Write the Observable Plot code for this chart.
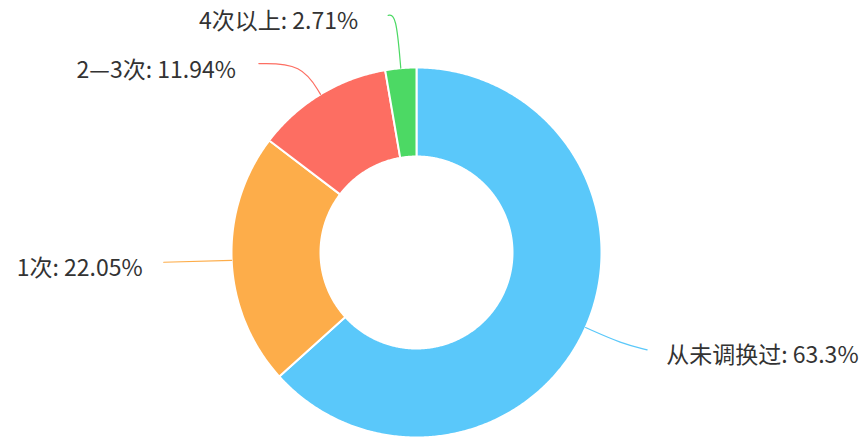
<!DOCTYPE html>
<html>
<head>
<meta charset="utf-8">
<script src="https://cdn.jsdelivr.net/npm/d3@7"></script>
<script src="https://cdn.jsdelivr.net/npm/@observablehq/plot@0.6"></script>
<style>
  html, body { margin: 0; padding: 0; background: #fff; }
  #chart svg { display: block; }
</style>
</head>
<body>
<div id="chart"></div>
<script>
// ---- data ----
const categories = ["从未调换过", "1次", "2—3次", "4次以上"];
const percents = [63.3, 22.05, 11.94, 2.71];
const colors = ["#5AC8FA", "#FDAD4A", "#FD6E62", "#4CD964"];

// ---- layout (pixels) ----
const W = 863, H = 439;
const CX = 416, CY = 252;         // donut centre
const R_OUT = 185, R_IN = 96;
// per-slice leader layout: radial extension, end offset, text offset
const leaderLen = [40, 68, 36, 54];
const endDx = [25, 0, -43, -8];
const endDy = [6, -1, 0, 1];
const textDx = [19, -21, -23, -30];
const textDy = [6, 6, 7, 6];

const U = 1 / R_OUT;   // one pixel in radius units

const pie = d3.pie().sort(null).value(d => d)(percents);

// slice polygons in radius units (angle clockwise from 12 o'clock)
const slices = pie.map((p, i) => {
  const pts = [];
  const steps = Math.max(4, Math.ceil((p.endAngle - p.startAngle) / (Math.PI / 360)));
  for (let k = 0; k <= steps; k++) {
    const a = p.startAngle + (p.endAngle - p.startAngle) * k / steps;
    pts.push({x: Math.sin(a), y: Math.cos(a)});
  }
  for (let k = steps; k >= 0; k--) {
    const a = p.startAngle + (p.endAngle - p.startAngle) * k / steps;
    pts.push({x: Math.sin(a) * R_IN / R_OUT, y: Math.cos(a) * R_IN / R_OUT});
  }
  pts.push(pts[0]);
  return pts;
});

const leaders = pie.map((p, i) => {
  const a = (p.startAngle + p.endAngle) / 2;
  const s = {x: Math.sin(a), y: Math.cos(a)};
  const r2 = 1 + leaderLen[i] * U;
  const e = {x: Math.sin(a) * r2, y: Math.cos(a) * r2};
  const end = {x: e.x + endDx[i] * U, y: e.y - endDy[i] * U};
  const pts = (Math.abs(endDx[i]) < 1) ? [s, end] : [s, e, end];
  return {pts, end, right: Math.sin(a) > 0};
});

const labels = leaders.map((l, i) => ({
  x: l.end.x + textDx[i] * U,
  y: l.end.y - textDy[i] * U,
  text: `${categories[i]}: ${percents[i]}%`,
  anchor: l.right ? "start" : "end"
}));

const marks = [];
slices.forEach((pts, i) => {
  marks.push(Plot.line(pts, {x: "x", y: "y", fill: colors[i], stroke: "#fff", strokeWidth: 2, strokeLinejoin: "round"}));
});
leaders.forEach((l, i) => {
  marks.push(Plot.line(l.pts, {x: "x", y: "y", stroke: colors[i], strokeWidth: 1.2, curve: "basis"}));
});
labels.forEach(l => {
  marks.push(Plot.text([l], {x: "x", y: "y", text: "text", textAnchor: l.anchor, lineAnchor: "middle",
    fill: "#333", fontSize: 23, fontFamily: "'Noto Sans CJK SC', 'Noto Sans', sans-serif"}));
});

const chart = Plot.plot({
  width: W, height: H,
  margin: 0,
  x: {domain: [-CX * U, (W - CX) * U], range: [0, W], axis: null},
  y: {domain: [-(H - CY) * U, CY * U], range: [H, 0], axis: null},
  style: {background: "#fff"},
  marks
});
document.getElementById("chart").appendChild(chart);
</script>
</body>
</html>
